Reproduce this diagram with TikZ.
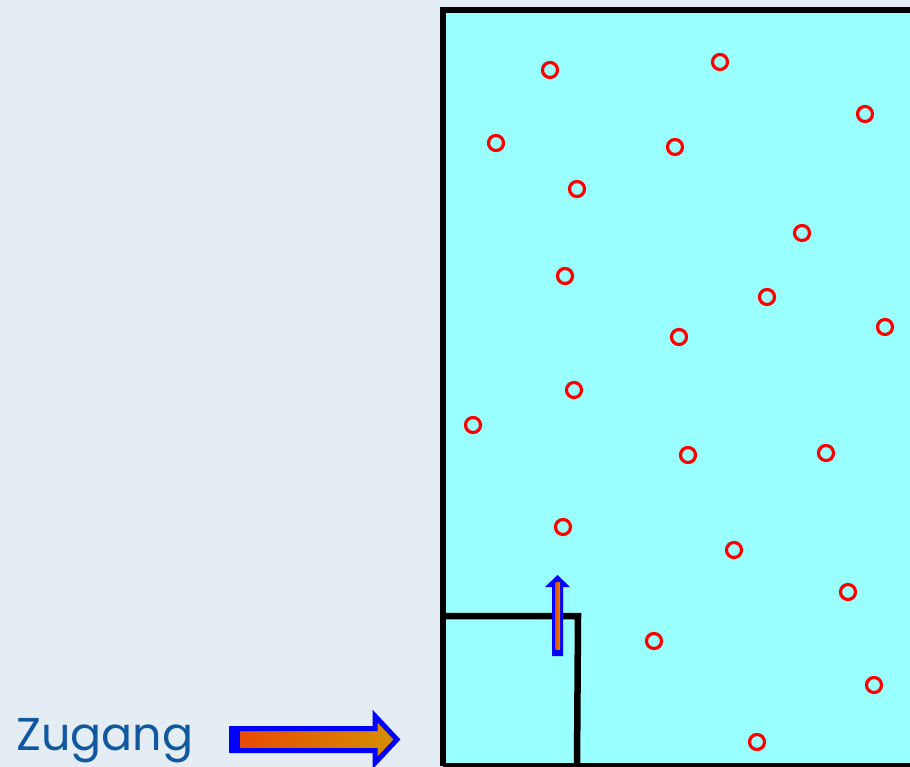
\documentclass[tikz,border=0pt]{standalone}
\usepackage{fontspec}
\newfontfamily\zfont{Poppins}
\definecolor{bgc}{HTML}{E4ECF4}
\definecolor{roomc}{HTML}{99FFFF}
\definecolor{txtc}{HTML}{1058A0}
\definecolor{orA}{HTML}{E84800}
\definecolor{orB}{HTML}{D49000}
\tikzset{
  partc/.style={draw=red, line width=3.2pt, circle, minimum size=15pt, inner sep=0pt},
  wall/.style={draw=black, line width=6.5pt},
  flowarrow/.style={draw=blue, line width=4pt, line join=miter},
}
\begin{document}
\begin{tikzpicture}[x=1pt,y=-1pt]
\useasboundingbox (0,0) rectangle (910,767);
\clip (0,0) rectangle (910,767);
\fill[bgc] (0,0) rectangle (910,767);
% room
\fill[roomc] (443,10) rectangle (940,766);
\draw[wall] (443,766) -- (443,10) -- (940,10);
\draw[wall] (443,766) -- (940,766);
% inner box
\coordinate (ib1) at (443,616);
\coordinate (ib2) at (578,616);
\coordinate (ib3) at (577,767);
\draw[wall, line join=miter] (ib1) -- (ib2) -- (ib3);
% particles
\foreach \n/\px/\py in {p1/550/70, p2/720/62, p3/865/114, p4/496/143, p5/675/147, p6/577/189, p7/802/233, p8/565/276, p9/767/297, p10/885/327, p11/679/337, p12/574/390, p13/473/425, p14/688/455, p15/826/453, p16/563/527, p17/734/550, p18/848/592, p19/654/641, p20/874/685, p21/757/742}
  \node[partc] (\n) at (\px,\py) {};
% vertical arrow
\fill[blue] (552,656) -- (552,587) -- (545,587) -- (557.5,575) -- (570,587) -- (563,587) -- (563,656) -- cycle;
\shade[left color=orA, right color=orB] (555.5,649) rectangle (560,582);
% text
\node[anchor=base west, inner sep=0pt, text=txtc, font=\zfont\fontsize{46}{48}\selectfont] (zug) at (16,750) {Zugang};
% horizontal arrow
\shade[left color=orA, right color=orB, draw=blue, line width=5pt, line join=miter]
  (233,728.5) -- (375,728.5) -- (375,716) -- (397,739.5) -- (375,763) -- (375,750.5) -- (233,750.5) -- cycle;
\fill[blue] (229,726) rectangle (240,753);
\end{tikzpicture}
\end{document}
